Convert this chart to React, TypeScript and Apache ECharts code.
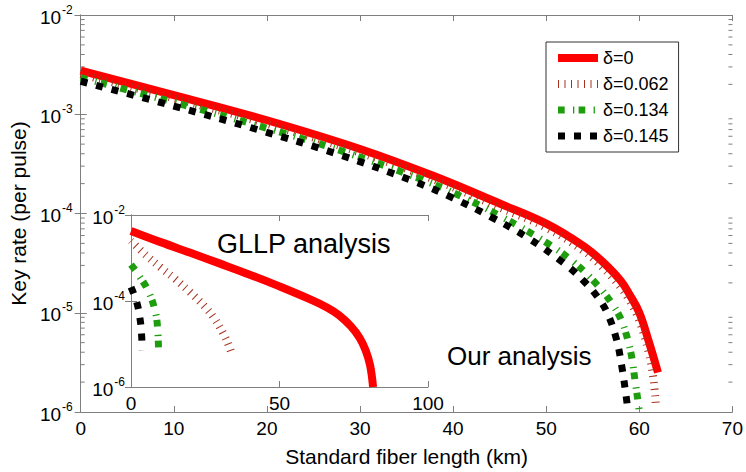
import React, { useEffect, useRef } from "react";
import * as echarts from "echarts";

// ---------- data ----------
const X_TICKS_MAIN = [0, 10, 20, 30, 40, 50, 60, 70];
const LEGEND_NAMES = ["δ=0", "δ=0.062", "δ=0.134", "δ=0.145"];

// main plot ("Our analysis"): [fiber length km, key rate]
const ourD0: [number, number][] = [
  [0, 2.75e-3], [10, 1.56e-3], [20, 8.7e-4], [30, 4.47e-4], [38, 2.37e-4],
  [45, 1.26e-4], [50, 7.9e-5], [54, 4.7e-5], [56, 3.3e-5], [58, 2.1e-5],
  [59, 1.5e-5], [60, 1.0e-5], [61, 5.2e-6], [62, 2.5e-6],
];
const ourD062: [number, number][] = [
  [0, 2.54e-3], [10, 1.45e-3], [20, 8.0e-4], [30, 4.1e-4], [38, 2.19e-4],
  [45, 1.15e-4], [50, 7.2e-5], [54, 4.2e-5], [56, 2.9e-5], [58, 1.8e-5],
  [59, 1.3e-5], [60, 8.3e-6], [61, 4.0e-6], [61.5, 2.2e-6], [61.8, 1.1e-6],
];
const ourD134: [number, number][] = [
  [0, 2.34e-3], [10, 1.32e-3], [19, 7.7e-4], [28, 4.27e-4], [36, 2.32e-4],
  [40, 1.62e-4], [45, 9.5e-5], [50, 5.1e-5], [53, 3.2e-5], [55.5, 1.9e-5],
  [57, 1.26e-5], [58, 8.7e-6], [58.7, 5.6e-6], [59.2, 3.5e-6], [59.5, 2.2e-6],
  [59.8, 1.4e-6], [60, 1.0e-6],
];
const ourD145: [number, number][] = [
  [0, 2.15e-3], [10, 1.21e-3], [19, 7.0e-4], [28, 3.85e-4], [36, 2.07e-4],
  [40, 1.43e-4], [44, 9.3e-5], [48, 5.7e-5], [52, 3.1e-5], [54, 2.1e-5],
  [55.5, 1.45e-5], [56.5, 1.02e-5], [57.5, 5.6e-6], [58.1, 2.95e-6], [58.6, 1.4e-6],
  [58.8, 1.0e-6],
];

// inset ("GLLP analysis")
const gllpD0: [number, number][] = [
  [0, 4.27e-3], [10, 2.34e-3], [20, 1.32e-3], [30, 7.4e-4], [40, 4.1e-4],
  [50, 2.19e-4], [60, 1.12e-4], [66, 7.1e-5], [70, 4.7e-5], [74, 2.6e-5],
  [77, 1.38e-5], [79, 7.1e-6], [80.5, 3.2e-6], [81.5, 1.0e-6],
];
const gllpD062: [number, number][] = [
  [0, 2.5e-3], [5, 1.17e-3], [10, 6.0e-4], [15, 3.2e-4], [20, 1.58e-4],
  [25, 7.2e-5], [28, 4.0e-5], [31, 1.78e-5], [33, 8.9e-6], [34, 5.6e-6],
];
const gllpD134: [number, number][] = [
  [0, 7e-4], [2.6, 4e-4], [5.9, 1.65e-4], [8.2, 5.6e-5], [9, 2.1e-5], [9.3, 6e-6],
];
const gllpD145: [number, number][] = [
  [0, 2.1e-4], [2, 9e-5], [3.1, 3.6e-5], [3.6, 1.5e-5], [3.75, 7.2e-6],
];

// minor tick positions for the main log axis
const MINOR_DECADES = [-6, -5, -4, -3];
const MINOR_MANTISSAS = [2, 3, 4, 5, 6, 7, 8, 9];

// ---------- styles ----------
const FONT = "'Liberation Sans', Arial, Helvetica, sans-serif";
const AXIS_GREY = "#7f7f7f";
const RED = "#ff0000";
const BROWN = "#a8321e";
const GREEN = "#1e9e0e";
const BLACK = "#000000";

const styles = [
  { color: RED, width: 8, type: "solid" as any },
  { color: BROWN, width: 8, type: [1, 5.5] },
  { color: GREEN, width: 7, type: [6.7, 8.3, 1.3, 4.3] },
  { color: BLACK, width: 7, type: [7, 9] },
];

const expLabel = (v: number) => {
  const e = Math.round(Math.log10(v));
  return `{b|10}{e|${e < 0 ? "-" : ""}${Math.abs(e)}}`;
};
const expLabelEven = (v: number) => {
  const e = Math.round(Math.log10(v));
  return e % 2 === 0 ? expLabel(v) : "";
};
const richExp = {
  b: { fontSize: 19, fontFamily: FONT, color: "#000", verticalAlign: "bottom" },
  e: { fontSize: 12, fontFamily: FONT, color: "#000", verticalAlign: "bottom", padding: [0, 0, 11, 1] },
};

export default function App() {
  const ref = useRef<HTMLDivElement>(null);
  useEffect(() => {
    if (!ref.current) return;
    const chart = echarts.init(ref.current, undefined, { renderer: "svg" });

    const minorData: [number, number][] = [];
    MINOR_DECADES.forEach((d) =>
      MINOR_MANTISSAS.forEach((m) => minorData.push([0, m * Math.pow(10, d)]))
    );

    const lineSeries = (name: string, data: [number, number][], i: number, grid: number) => ({
      name,
      type: "line",
      xAxisIndex: grid === 0 ? 0 : 2,
      yAxisIndex: grid === 0 ? 0 : 2,
      data,
      symbol: "none",
      showSymbol: false,
      smooth: 0.4,
      lineStyle: { color: styles[i].color, width: styles[i].width, type: styles[i].type, cap: "butt", join: "round" },
      itemStyle: { color: styles[i].color },
      z: 3 + i,
      silent: true,
    });

    const mainAxisCommon = {
      axisLine: { show: true, lineStyle: { color: AXIS_GREY, width: 1 } },
      axisTick: { show: true, inside: true, length: 6, lineStyle: { color: AXIS_GREY } },
      splitLine: { show: false },
    };
    const insetTick = { show: true, inside: true, length: 6, lineStyle: { color: AXIS_GREY } };

    chart.setOption({
      animation: false,
      backgroundColor: "#fff",
      textStyle: { fontFamily: FONT },
      grid: [
        { left: 72, right: 12, top: 15, bottom: 51, containLabel: false },
        { left: 131, top: 215, width: 297, height: 172, show: true, backgroundColor: "#fff", borderWidth: 0, z: 10 },
      ],
      legend: {
        orient: "vertical",
        left: 546,
        top: 42,
        padding: [7, 10, 7, 8],
        itemGap: 8,
        itemWidth: 40,
        itemHeight: 14,
        borderColor: "#333",
        borderWidth: 1,
        backgroundColor: "#fff",
        textStyle: { fontSize: 18, color: "#000", fontFamily: FONT },
        selectedMode: false,
        data: LEGEND_NAMES.map((n, i) => ({
          name: n,
          itemStyle: { opacity: 0, borderWidth: 0 },
          lineStyle: { color: styles[i].color, width: styles[i].width, type: styles[i].type, cap: "butt" },
        })),
      },
      xAxis: [
        {
          gridIndex: 0,
          type: "value",
          min: 0,
          max: 70,
          interval: 10,
          ...mainAxisCommon,
          axisLabel: { color: "#000", fontSize: 19, fontFamily: FONT, margin: 7, customValues: X_TICKS_MAIN },
          name: "Standard fiber length (km)",
          nameLocation: "middle",
          nameGap: 34,
          nameTextStyle: { fontSize: 21, color: "#000", fontFamily: FONT },
        },
        {
          gridIndex: 0,
          type: "value",
          position: "top",
          min: 0,
          max: 70,
          interval: 10,
          ...mainAxisCommon,
          axisLabel: { show: false },
        },
        {
          gridIndex: 1,
          type: "value",
          min: 0,
          max: 100,
          interval: 50,
          ...mainAxisCommon,
          z: 11,
          axisLabel: { color: "#000", fontSize: 19, fontFamily: FONT, margin: 7 },
        },
        {
          gridIndex: 1,
          type: "value",
          position: "top",
          min: 0,
          max: 100,
          interval: 50,
          ...mainAxisCommon,
          z: 11,
          axisLabel: { show: false },
        },
      ],
      yAxis: [
        {
          gridIndex: 0,
          type: "log",
          logBase: 10,
          min: 1e-6,
          max: 1e-2,
          ...mainAxisCommon,
          axisLabel: { formatter: expLabel, rich: richExp, margin: 8 },
          name: "Key rate (per pulse)",
          nameLocation: "middle",
          nameGap: 43,
          nameTextStyle: { fontSize: 21, color: "#000", fontFamily: FONT },
        },
        {
          gridIndex: 0,
          type: "log",
          logBase: 10,
          position: "right",
          min: 1e-6,
          max: 1e-2,
          ...mainAxisCommon,
          axisLabel: { show: false },
        },
        {
          gridIndex: 1,
          type: "log",
          logBase: 10,
          min: 1e-6,
          max: 1e-2,
          interval: 2,
          ...mainAxisCommon,
          z: 11,
          axisTick: insetTick,
          axisLabel: { formatter: expLabelEven, rich: richExp, margin: 6 },
        },
        {
          gridIndex: 1,
          type: "log",
          logBase: 10,
          position: "right",
          min: 1e-6,
          max: 1e-2,
          interval: 2,
          ...mainAxisCommon,
          z: 11,
          axisTick: insetTick,
          axisLabel: { show: false },
        },
      ],
      graphic: [
        {
          type: "text",
          left: 217,
          top: 230,
          z: 100,
          style: { text: "GLLP analysis", fontSize: 27, fontFamily: FONT, fill: "#000" },
        },
        {
          type: "text",
          left: 447,
          top: 343,
          z: 100,
          style: { text: "Our analysis", fontSize: 26, fontFamily: FONT, fill: "#000" },
        },
      ],
      series: [
        lineSeries(LEGEND_NAMES[0], ourD0, 0, 0),
        lineSeries(LEGEND_NAMES[1], ourD062, 1, 0),
        lineSeries(LEGEND_NAMES[2], ourD134, 2, 0),
        lineSeries(LEGEND_NAMES[3], ourD145, 3, 0),
        { ...lineSeries(LEGEND_NAMES[0], gllpD0, 0, 1), z: 20 },
        { ...lineSeries(LEGEND_NAMES[1], gllpD062, 1, 1), z: 21 },
        { ...lineSeries(LEGEND_NAMES[2], gllpD134, 2, 1), z: 22 },
        { ...lineSeries(LEGEND_NAMES[3], gllpD145, 3, 1), z: 23 },
        {
          type: "custom",
          name: "minorTicks",
          xAxisIndex: 0,
          yAxisIndex: 0,
          data: minorData,
          silent: true,
          z: 2,
          renderItem: (params: any, api: any) => {
            const v = api.value(1);
            const l = api.coord([0, v]);
            const r = api.coord([70, v]);
            const st = { stroke: AXIS_GREY, lineWidth: 1 };
            return {
              type: "group",
              children: [
                { type: "line", shape: { x1: l[0], y1: l[1], x2: l[0] + 4, y2: l[1] }, style: st },
                { type: "line", shape: { x1: r[0] - 4, y1: r[1], x2: r[0], y2: r[1] }, style: st },
              ],
            };
          },
        },
      ],
    });
    return () => chart.dispose();
  }, []);
  return <div ref={ref} style={{ width: 746, height: 472, position: "absolute", left: 0, top: 0 }} />;
}
